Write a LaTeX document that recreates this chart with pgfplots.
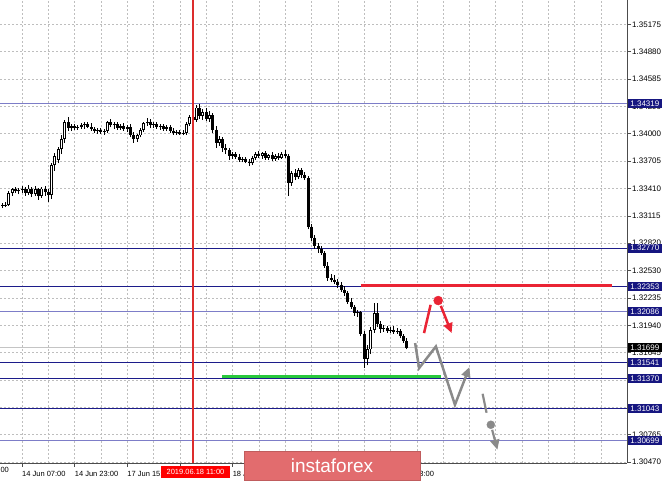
\documentclass[border=0pt]{standalone}
\usepackage{pgfplots}
\pgfplotsset{compat=1.18}
\usepackage{pgfplotstable}
\usepackage{fontspec}
\setmainfont{Liberation Sans}
\usetikzlibrary{arrows.meta}
\definecolor{lvnavy}{RGB}{28,28,138}
\definecolor{lvlight}{RGB}{125,125,200}
\definecolor{boxnavy}{RGB}{22,22,128}
\definecolor{gridc}{RGB}{190,190,190}
\definecolor{wm}{RGB}{226,108,110}
\definecolor{redl}{RGB}{234,36,52}
\definecolor{vred}{RGB}{220,45,45}
\definecolor{greenl}{RGB}{40,200,60}
\definecolor{arrgray}{RGB}{138,138,138}
\definecolor{curp}{RGB}{196,196,196}

\pgfplotstableread{
i O H L C
-6 1.3322 1.3325 1.3320 1.3323
-5 1.3323 1.3326 1.3321 1.3322
-4 1.3323 1.3338 1.3322 1.3336
-3 1.3336 1.3342 1.3333 1.3340
-2 1.3340 1.3343 1.3336 1.3338
-1 1.3338 1.3342 1.3335 1.3339
0 1.3339 1.3344 1.3336 1.3341
1 1.3341 1.3343 1.3333 1.3336
2 1.3336 1.3345 1.3334 1.3341
3 1.3341 1.3343 1.3332 1.3335
4 1.3335 1.3344 1.3333 1.3340
5 1.3340 1.3342 1.3329 1.3333
6 1.3333 1.3343 1.3331 1.3341
7 1.3341 1.3344 1.3333 1.3337
8 1.3337 1.3341 1.3327 1.3334
9 1.3334 1.3368 1.3330 1.3366
10 1.3366 1.3379 1.3360 1.3376
11 1.3372 1.3386 1.3368 1.3383
12 1.3383 1.3398 1.3378 1.3394
13 1.3394 1.3415 1.3390 1.3412
14 1.3412 1.3418 1.3403 1.3406
15 1.3406 1.3410 1.3403 1.3408
16 1.3408 1.3410 1.3404 1.3406
17 1.3406 1.3409 1.3404 1.3407
18 1.3407 1.3411 1.3405 1.3409
19 1.3409 1.3412 1.3405 1.3410
20 1.3410 1.3413 1.3406 1.3407
21 1.3407 1.3411 1.3403 1.3405
22 1.3405 1.3407 1.3401 1.3403
23 1.3403 1.3406 1.3400 1.3404
24 1.3404 1.3406 1.3400 1.3402
25 1.3402 1.3405 1.3399 1.3403
26 1.3403 1.3414 1.3401 1.3412
27 1.3412 1.3416 1.3407 1.3409
28 1.3409 1.3412 1.3405 1.3410
29 1.3410 1.3412 1.3404 1.3406
30 1.3406 1.3410 1.3404 1.3408
31 1.3408 1.3411 1.3403 1.3405
32 1.3405 1.3409 1.3402 1.3407
33 1.3407 1.3410 1.3396 1.3398
34 1.3398 1.3402 1.3390 1.3394
35 1.3394 1.3400 1.3391 1.3398
36 1.3398 1.3406 1.3396 1.3404
37 1.3404 1.3413 1.3402 1.3411
38 1.3411 1.3417 1.3408 1.3413
39 1.3413 1.3416 1.3406 1.3409
40 1.3409 1.3412 1.3406 1.3410
41 1.3410 1.3412 1.3405 1.3407
42 1.3407 1.3410 1.3404 1.3408
43 1.3408 1.3410 1.3403 1.3405
44 1.3405 1.3409 1.3403 1.3407
45 1.3407 1.3409 1.3401 1.3403
46 1.3403 1.3406 1.3399 1.3401
47 1.3401 1.3404 1.3399 1.3402
48 1.3402 1.3404 1.3399 1.3400
49 1.3400 1.3404 1.3398 1.3401
50 1.3401 1.3412 1.3399 1.3410
51 1.3410 1.3420 1.3408 1.3418
52 1.3418 1.3426 1.3412 1.3415
53 1.3415 1.3431 1.3413 1.3428
54 1.3427 1.3432 1.3416 1.3419
55 1.3419 1.3426 1.3415 1.3423
56 1.3423 1.3427 1.3414 1.3416
57 1.3416 1.3424 1.3413 1.3420
58 1.3420 1.3422 1.3401 1.3404
59 1.3404 1.3408 1.3385 1.3390
60 1.3390 1.3397 1.3387 1.3394
61 1.3394 1.3396 1.3380 1.3384
62 1.3384 1.3389 1.3378 1.3382
63 1.3382 1.3385 1.3372 1.3376
64 1.3376 1.3380 1.3373 1.3378
65 1.3378 1.3380 1.3373 1.3375
66 1.3375 1.3378 1.3370 1.3372
67 1.3372 1.3375 1.3369 1.3373
68 1.3373 1.3375 1.3368 1.3370
69 1.3370 1.3373 1.3365 1.3368
70 1.3368 1.3376 1.3366 1.3374
71 1.3374 1.3380 1.3372 1.3378
72 1.3378 1.3381 1.3374 1.3376
73 1.3376 1.3380 1.3373 1.3379
74 1.3379 1.3381 1.3372 1.3374
75 1.3374 1.3378 1.3372 1.3377
76 1.3377 1.3380 1.3371 1.3373
77 1.3373 1.3378 1.3371 1.3376
78 1.3376 1.3379 1.3372 1.3374
79 1.3374 1.3380 1.3373 1.3378
80 1.3378 1.3382 1.3374 1.3376
81 1.3376 1.3378 1.3333 1.3347
82 1.3347 1.3360 1.3344 1.3358
83 1.3358 1.3362 1.3350 1.3353
84 1.3353 1.3363 1.3351 1.3361
85 1.3361 1.3363 1.3352 1.3355
86 1.3355 1.3359 1.3350 1.3352
87 1.3352 1.3354 1.3297 1.3300
88 1.3300 1.3303 1.3285 1.3288
89 1.3288 1.3291 1.3276 1.3279
90 1.3279 1.3282 1.3272 1.3276
91 1.3276 1.3279 1.3270 1.3272
92 1.3272 1.3274 1.3256 1.3258
93 1.3258 1.3262 1.3242 1.3245
94 1.3245 1.3249 1.3240 1.3243
95 1.3243 1.3248 1.3238 1.3240
96 1.3240 1.3244 1.3234 1.3237
97 1.3237 1.3240 1.3230 1.3232
98 1.3232 1.3236 1.3226 1.3229
99 1.3229 1.3231 1.3217 1.3219
100 1.3219 1.3223 1.3212 1.3214
101 1.3214 1.3216 1.3204 1.3207
102 1.3207 1.3210 1.3203 1.3208
103 1.3208 1.3209 1.3182 1.3185
104 1.3185 1.3188 1.3148 1.3158
105 1.3158 1.3173 1.3151 1.3168
106 1.3168 1.3192 1.3163 1.3189
107 1.3189 1.3218 1.3186 1.3207
108 1.3207 1.3218 1.3192 1.3195
109 1.3195 1.3199 1.3186 1.3190
110 1.3190 1.3194 1.3187 1.3191
111 1.3191 1.3193 1.3186 1.3188
112 1.3188 1.3192 1.3186 1.3189
113 1.3189 1.3193 1.3185 1.3187
114 1.3187 1.3191 1.3185 1.3188
115 1.3188 1.3190 1.3180 1.3182
116 1.3182 1.3185 1.3175 1.3177
117 1.3177 1.3180 1.3168 1.3170
}\candles

\begin{document}
\begin{tikzpicture}[x=1pt,y=1pt]
\useasboundingbox (0,-19) rectangle (665,463);
\begin{axis}[
  at={(0pt,0pt)}, anchor=south west,
  width=627pt, height=463pt, scale only axis,
  xmin=-6.687, xmax=183.89,
  ymin=1.30460, ymax=1.35436,
  axis x line*=bottom, axis y line*=right,
  axis line style={draw=black!70, line width=0.8pt},
  tick align=outside,
  major tick length=4pt,
  minor tick length=0pt,
  tick style={black!70, line width=0.6pt},
  grid=both,
  major grid style={gridc, dash pattern=on 2pt off 2pt, line width=0.6pt},
  minor grid style={gridc, dash pattern=on 2pt off 2pt, line width=0.6pt},
  xtick={0,16,32,48,64,80,96,112},
  xticklabels={14 Jun 07:00,14 Jun 23:00,17 Jun 15:00,18 Jun 07:00,18 Jun 23:00,19 Jun 15:00,20 Jun 07:00,20 Jun 23:00},
  minor xtick={-8,8,24,40,56,72,88,104,120,128,136,144,152,160,168,176},
  xticklabel style={font=\fontsize{7.5}{7.5}\selectfont, anchor=north west, inner xsep=0pt, inner ysep=0pt, yshift=-4pt},
  ytick={1.30470,1.30764,1.31058,1.31352,1.31646,1.31940,1.32234,1.32528,1.32822,1.33116,1.33410,1.33704,1.33998,1.34292,1.34586,1.34880,1.35174},
  yticklabels={1.30470,1.30765,1.31055,1.31350,1.31645,1.31940,1.32235,1.32530,1.32820,1.33115,1.33410,1.33705,1.34000,1.34290,1.34585,1.34880,1.35175},
  yticklabel style={font=\fontsize{8}{8}\selectfont, anchor=west, inner xsep=1pt},
  clip=true,
]
% level lines
\addplot[draw=curp, line width=1pt] coordinates {(-7,1.31699) (184,1.31699)};
\addplot[draw=lvlight, line width=1pt] coordinates {(-7,1.34319) (184,1.34319)};
\addplot[draw=lvnavy, line width=1pt] coordinates {(-7,1.32770) (184,1.32770)};
\addplot[draw=lvnavy, line width=1pt] coordinates {(-7,1.32353) (184,1.32353)};
\addplot[draw=lvlight, line width=1pt] coordinates {(-7,1.32086) (184,1.32086)};
\addplot[draw=lvnavy, line width=1pt] coordinates {(-7,1.31541) (184,1.31541)};
\addplot[draw=lvnavy, line width=1pt] coordinates {(-7,1.31370) (184,1.31370)};
\addplot[draw=lvnavy, line width=1pt] coordinates {(-7,1.31043) (184,1.31043)};
\addplot[draw=lvlight, line width=1pt] coordinates {(-7,1.30699) (184,1.30699)};
% candles
\addplot[black, line width=1pt, quiver={u=0, v=\thisrow{H}-\thisrow{L}}] table[x=i, y=L] {\candles};
\addplot[black, line width=3pt, quiver={u=0, v=\thisrow{C}-\thisrow{O}}] table[x=i, y=O] {\candles};
\addplot[white, line width=1.0pt, quiver={u=0, v={max(\thisrow{C}-\thisrow{O}-0.0002,0)}}] table[x=i, y expr=\thisrow{O}+0.0001] {\candles};
% period separator
\addplot[draw=vred, line width=1.2pt] coordinates {(52,1.3046) (52,1.35436)};
% drawings
\addplot[draw=greenl, line width=2.5pt] coordinates {(60.8,1.3139) (127.4,1.3139)};
\addplot[draw=redl, line width=3pt] coordinates {(103,1.3237) (179.3,1.3237)};
\addplot[draw=arrgray, line width=2.5pt, -{Triangle[length=10pt,width=9pt]}] coordinates {(119.5,1.31749) (120.7,1.31480) (125.8,1.31712) (131.6,1.31086) (136.0,1.31491)};
\addplot[draw=arrgray, line width=2.2pt] coordinates {(140.0,1.31204) (141.2,1.31000)};
\addplot[arrgray, only marks, mark=*, mark size=4pt, mark options={fill=arrgray, draw=arrgray}] coordinates {(142.5,1.30871)};
\addplot[draw=arrgray, line width=2.2pt, -{Triangle[length=10pt,width=9pt]}] coordinates {(142.9,1.30817) (144.5,1.30603)};
\addplot[draw=redl, line width=2.5pt] coordinates {(122.2,1.31856) (124.2,1.32160)};
\addplot[redl, only marks, mark=*, mark size=4.5pt, mark options={fill=redl, draw=redl}] coordinates {(126.5,1.32206)};
\addplot[draw=redl, line width=2.5pt, -{Triangle[length=10pt,width=9pt]}] coordinates {(127.3,1.32149) (130.6,1.31856)};
% label anchors
\coordinate (b1) at (axis cs:183.89,1.34319);
\coordinate (b2) at (axis cs:183.89,1.32770);
\coordinate (b3) at (axis cs:183.89,1.32353);
\coordinate (b4) at (axis cs:183.89,1.32086);
\coordinate (b5) at (axis cs:183.89,1.31541);
\coordinate (b6) at (axis cs:183.89,1.31370);
\coordinate (b7) at (axis cs:183.89,1.31043);
\coordinate (b8) at (axis cs:183.89,1.30699);
\coordinate (bc) at (axis cs:183.89,1.31699);
\coordinate (t0) at (axis cs:-16,1.30460);
\end{axis}
\foreach \c/\t in {b1/1.34319,b2/1.32770,b3/1.32353,b4/1.32086,b5/1.31541,b6/1.31370,b7/1.31043,b8/1.30699}
  \node[fill=boxnavy, text=white, anchor=west, font=\fontsize{8}{8}\selectfont, inner xsep=2.2pt, inner ysep=1.6pt, text height=5.8pt, text depth=0pt, xshift=1pt] at (\c) {\t};
\node[fill=black, text=white, anchor=west, font=\fontsize{8}{8}\selectfont, inner xsep=2.2pt, inner ysep=1.6pt, text height=5.8pt, text depth=0pt, xshift=1pt] at (bc) {1.31699};
\node[anchor=north west, font=\fontsize{7.5}{7.5}\selectfont, inner sep=0pt, yshift=-4pt, xshift=-4pt] at (t0) {13 Jun 15:00};
\node[fill=red, text=white, font=\fontsize{7.5}{7.5}\selectfont, minimum width=69pt, minimum height=12pt, inner sep=0pt] at (195.5,-9) {2019.06.18 11:00};
\node[fill=wm, draw=wm!85!black, line width=0.6pt, minimum width=176pt, minimum height=29pt, text=white, font=\fontsize{19}{19}\selectfont, inner sep=0pt] at (332,-2.5) {instaforex};
\end{tikzpicture}
\end{document}
